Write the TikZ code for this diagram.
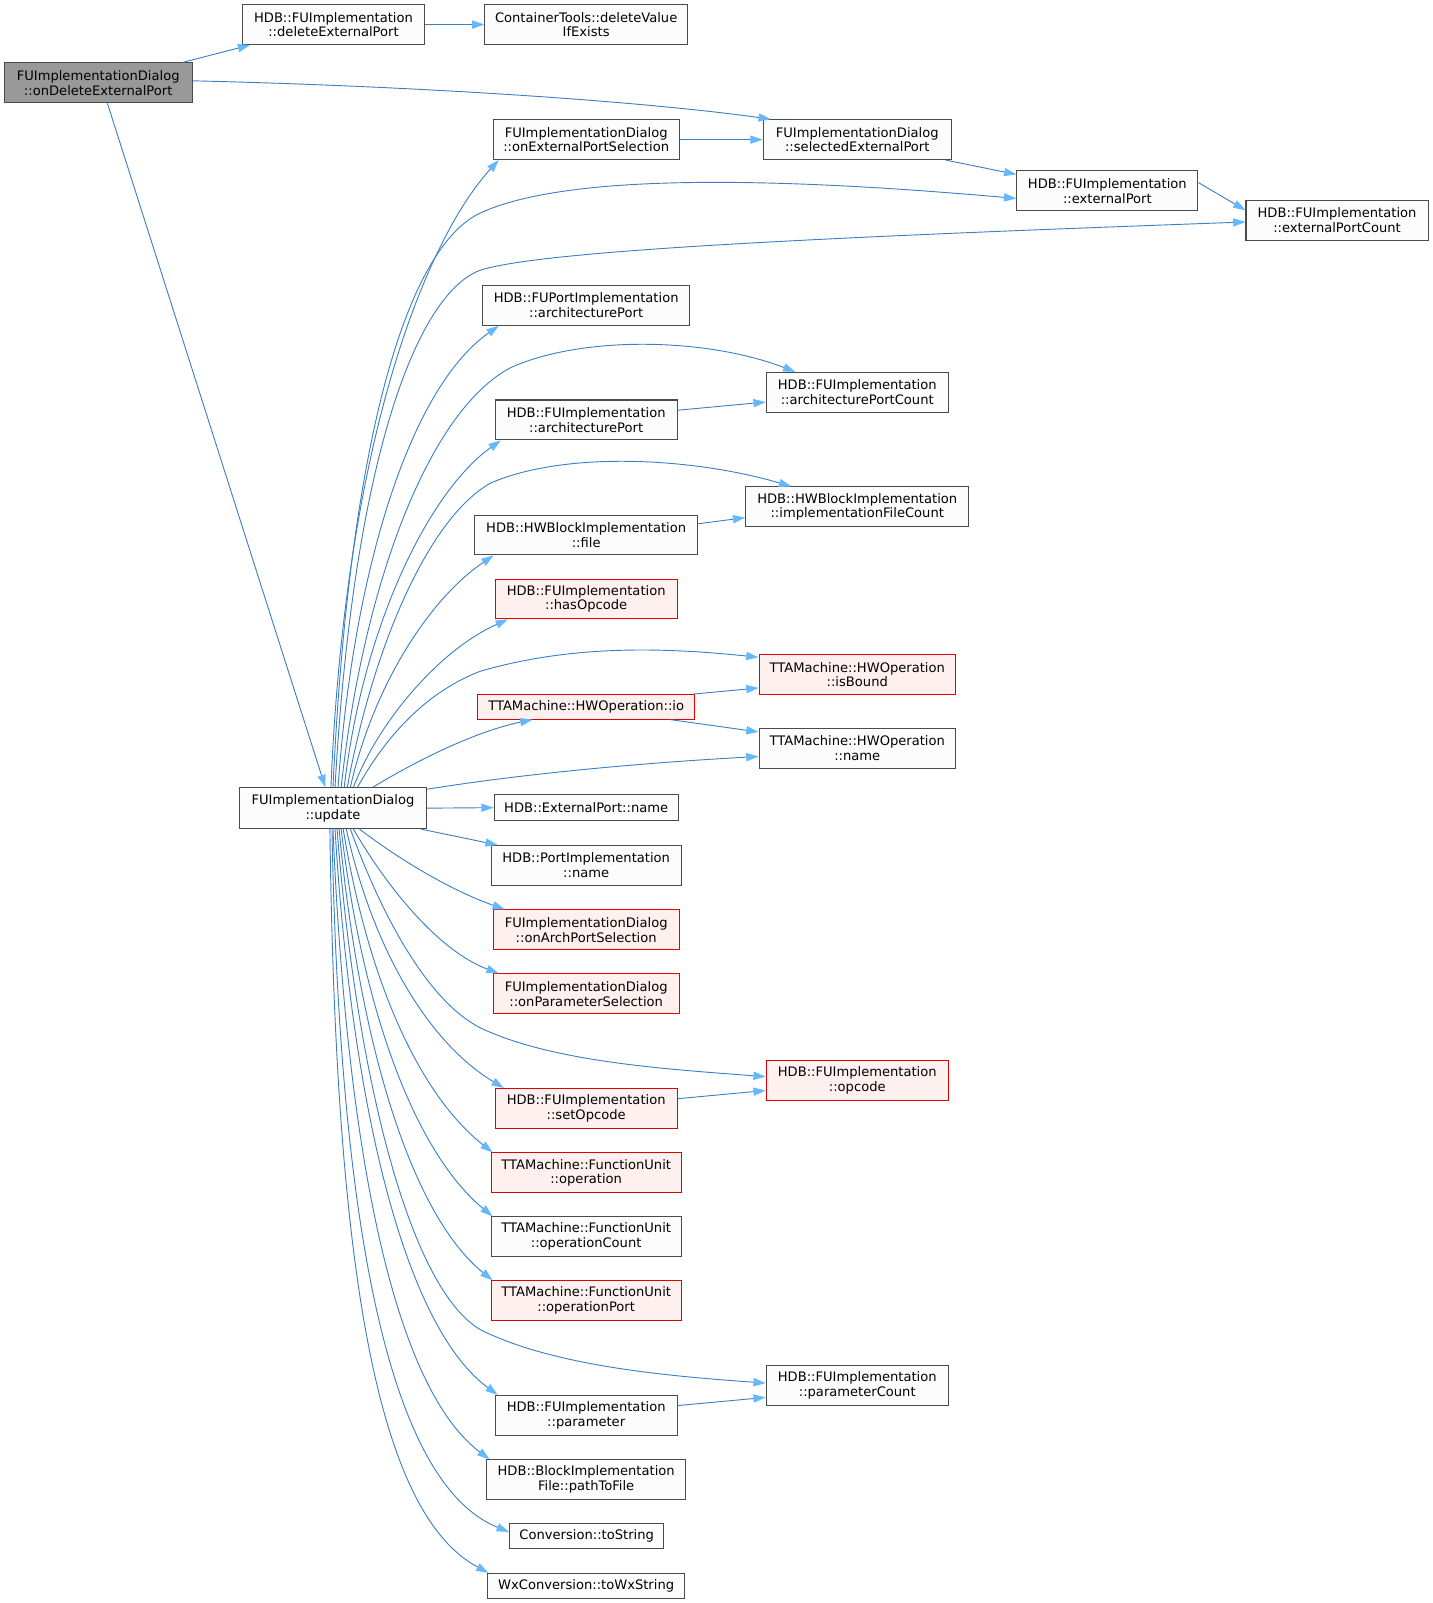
\documentclass[tikz,border=0pt]{standalone}
\usepackage{fontspec}
\setmainfont{DejaVu Sans}
\usetikzlibrary{arrows.meta}
\definecolor{edgeblue}{HTML}{3D7FC4}
\definecolor{headblue}{HTML}{63B8FF}
\definecolor{nodefill}{HTML}{FBFCFB}
\definecolor{nodeline}{HTML}{4A4A4A}
\definecolor{redfill}{HTML}{FFF0F0}
\definecolor{redline}{HTML}{E00000}
\definecolor{startfill}{HTML}{999999}
\tikzset{
  fn/.style={draw=nodeline, fill=nodefill, line width=1pt, rectangle, inner sep=0pt,
    minimum height=39pt, align=center, font=\fontsize{12.8}{14.5}\selectfont},
  fnone/.style={fn, minimum height=25pt},
  redfn/.style={fn, draw=redline, fill=redfill},
  startfn/.style={fn, fill=startfill, draw=nodeline},
  call/.style={draw=edgeblue, line width=0.9pt,
    -{Triangle[length=12pt,width=8pt,color=headblue,fill=headblue]}},
}
\begin{document}
\begin{tikzpicture}[x=1pt,y=-1pt]
\useasboundingbox (0,0) rectangle (1400,1567);
% nodes
\node[startfn, minimum width=184pt] (del) at (96,81) {FUImplementationDialog\\::onDeleteExternalPort};
\node[fn, minimum width=178pt] (dep) at (326,24) {HDB::FUImplementation\\::deleteExternalPort};
\node[fn, minimum width=198pt] (dvi) at (573,24) {ContainerTools::deleteValue\\IfExists};
\node[fn, minimum width=184pt] (sep) at (838,136.5) {FUImplementationDialog\\::selectedExternalPort};
\node[fn, minimum width=182pt] (oeps) at (573,136.5) {FUImplementationDialog\\::onExternalPortSelection};
\node[fn, minimum width=177pt] (ep) at (1082.5,186.5) {HDB::FUImplementation\\::externalPort};
\node[fn, minimum width=178pt] (epc) at (1307,215.5) {HDB::FUImplementation\\::externalPortCount};
\node[fn, minimum width=202pt] (fpap) at (573,298.5) {HDB::FUPortImplementation\\::architecturePort};
\node[fn, minimum width=178pt] (apc) at (838,383.5) {HDB::FUImplementation\\::architecturePortCount};
\node[fn, minimum width=178pt] (fap) at (573,410.5) {HDB::FUImplementation\\::architecturePort};
\node[fn, minimum width=218pt] (ifc) at (838,495.5) {HDB::HWBlockImplementation\\::implementationFileCount};
\node[fn, minimum width=218pt] (file) at (573,523) {HDB::HWBlockImplementation\\::file};
\node[redfn, minimum width=178pt] (hasop) at (573,585.5) {HDB::FUImplementation\\::hasOpcode};
\node[redfn, minimum width=192pt] (isb) at (838,659.5) {TTAMachine::HWOperation\\::isBound};
\node[redfn, minimum width=212pt, minimum height=24pt] (io) at (573,691) {TTAMachine::HWOperation::io};
\node[fn, minimum width=192pt] (hwn) at (838,731.5) {TTAMachine::HWOperation\\::name};
\node[fn, minimum width=183pt, minimum height=40pt] (upd) at (325.5,790) {FUImplementationDialog\\::update};
\node[fnone, minimum width=180pt] (epn) at (573,789.5) {HDB::ExternalPort::name};
\node[fn, minimum width=186pt] (pin) at (573,846) {HDB::PortImplementation\\::name};
\node[redfn, minimum width=182pt] (oaps) at (573,909) {FUImplementationDialog\\::onArchPortSelection};
\node[redfn, minimum width=182pt] (ops) at (573,971.5) {FUImplementationDialog\\::onParameterSelection};
\node[redfn, minimum width=178pt] (opc) at (838,1056.5) {HDB::FUImplementation\\::opcode};
\node[redfn, minimum width=178pt] (sop) at (573,1083.5) {HDB::FUImplementation\\::setOpcode};
\node[redfn, minimum width=186pt] (fuo) at (573,1146.5) {TTAMachine::FunctionUnit\\::operation};
\node[fn, minimum width=186pt] (fuoc) at (573,1209) {TTAMachine::FunctionUnit\\::operationCount};
\node[redfn, minimum width=186pt] (fuop) at (573,1271.5) {TTAMachine::FunctionUnit\\::operationPort};
\node[fn, minimum width=178pt] (pc) at (838,1354) {HDB::FUImplementation\\::parameterCount};
\node[fn, minimum width=178pt] (par) at (573,1383.5) {HDB::FUImplementation\\::parameter};
\node[fn, minimum width=194pt] (ptf) at (573,1446.5) {HDB::BlockImplementation\\File::pathToFile};
\node[fnone, minimum width=151pt] (ts) at (573.5,1501.5) {Conversion::toString};
\node[fnone, minimum width=192pt] (tws) at (573,1550.5) {WxConversion::toWxString};
% edges from onDeleteExternalPort
\draw[call] ([xshift=-10pt]del.north east) -- ([xshift=8pt]dep.south west);
\draw[call] (dep.east) -- (dvi.west);
\draw[call] ([yshift=2pt]del.east) .. controls (400,84) and (620,98) .. ([xshift=8pt]sep.north west);
\draw[call] ([xshift=9pt]del.south) -- ([xshift=-7.5pt]upd.north);
% simple edges
\draw[call] (oeps.east) -- (sep.west);
\draw[call] ([xshift=-6pt]sep.south east) -- ([yshift=-4pt]ep.north west);
\draw[call] ([yshift=-12pt]ep.north east) -- ([yshift=-10pt]epc.north west);
\draw[call] ([yshift=9.5pt]fap.east) -- ([yshift=-9.5pt]apc.west);
\draw[call] ([yshift=11pt]file.east) -- ([yshift=-10.5pt]ifc.west);
\draw[call] ([xshift=-2pt]io.north east) -- ([yshift=7pt]isb.south west);
\draw[call] ([xshift=-24pt]io.south east) -- ([yshift=-4pt]hwn.north west);
\draw[call] ([yshift=9.5pt]sop.east) -- ([yshift=-9.5pt]opc.west);
\draw[call] ([yshift=9.5pt]par.east) -- ([yshift=-12pt]pc.west);
% update: upward fan
\draw[call] ([xshift=-2pt]upd.north) .. controls (338,420) and (420,230) .. ([xshift=6pt]oeps.south west);
\draw[call] ([xshift=0pt]upd.north) .. controls (342,420) and (400,240) .. (470,208)
  .. controls (540,176) and (700,168) .. ([yshift=-7.5pt]ep.west);
\draw[call] ([xshift=2pt]upd.north) .. controls (346,440) and (410,285) .. (470,264)
  .. controls (530,245) and (800,232) .. ([yshift=-1.5pt]epc.west);
\draw[call] ([xshift=5pt]upd.north) .. controls (345,560) and (400,380) .. ([xshift=16pt]fpap.south west);
\draw[call] ([xshift=8pt]upd.north) .. controls (355,570) and (420,400) .. (500,359)
  .. controls (570,328) and (690,330) .. ([xshift=29pt]apc.north west);
\draw[call] ([xshift=11pt]upd.north) .. controls (355,610) and (420,480) .. ([xshift=6pt]fap.south west);
\draw[call] ([xshift=14pt]upd.north) .. controls (365,630) and (420,505) .. (480,472)
  .. controls (555,440) and (680,448) .. ([xshift=45pt]ifc.north west);
\draw[call] ([xshift=17pt]upd.north) .. controls (365,670) and (420,585) .. ([xshift=19pt]file.south west);
\draw[call] ([xshift=20pt]upd.north) .. controls (370,705) and (430,635) .. ([xshift=13pt]hasop.south west);
\draw[call] ([xshift=24pt]upd.north) .. controls (380,715) and (420,675) .. (470,656)
  .. controls (560,630) and (650,633) .. ([yshift=-3pt]isb.north west);
\draw[call] ([xshift=39pt]upd.north) .. controls (400,748) and (460,716) .. ([xshift=54pt]io.south west);
\draw[call] ([yshift=-2pt]upd.north east) .. controls (520,755) and (640,745) .. ([yshift=-8pt]hwn.west);
% update: right
\draw[call] (upd.east) -- (epn.west);
\draw[call] ([xshift=-6pt]upd.south east) -- ([xshift=7pt]pin.north west);
% update: downward fan
\draw[call] ([xshift=26pt]upd.south) .. controls (390,840) and (440,870) .. ([xshift=12pt]oaps.north west);
\draw[call] ([xshift=20pt]upd.south) .. controls (380,870) and (430,930) .. ([xshift=6pt]ops.north west);
\draw[call] ([xshift=17pt]upd.south) .. controls (375,900) and (420,980) .. (470,1005)
  .. controls (540,1038) and (650,1045) .. ([yshift=4pt]opc.west);
\draw[call] ([xshift=13pt]upd.south) .. controls (365,930) and (420,1020) .. ([xshift=9pt]sop.north west);
\draw[call] ([xshift=10pt]upd.south) .. controls (360,960) and (410,1070) .. ([xshift=2pt]fuo.north west);
\draw[call] ([xshift=8pt]upd.south) .. controls (356,1000) and (410,1130) .. ([xshift=2pt]fuoc.north west);
\draw[call] ([xshift=6pt]upd.south) .. controls (352,1030) and (405,1190) .. ([xshift=2pt]fuop.north west);
\draw[call] ([xshift=4pt]upd.south) .. controls (348,1050) and (400,1260) .. (470,1300)
  .. controls (540,1335) and (650,1345) .. ([yshift=2pt]pc.west);
\draw[call] ([xshift=2pt]upd.south) .. controls (345,1100) and (400,1300) .. ([xshift=3pt]par.north west);
\draw[call] ([xshift=0pt]upd.south) .. controls (340,1150) and (390,1360) .. ([xshift=3pt]ptf.north west);
\draw[call] ([xshift=-1pt]upd.south) .. controls (332,1200) and (380,1450) .. ([yshift=4pt]ts.west);
\draw[call] ([xshift=-3pt]upd.south) .. controls (328,1250) and (370,1480) .. ([xshift=1pt]tws.north west);
\end{tikzpicture}
\end{document}
